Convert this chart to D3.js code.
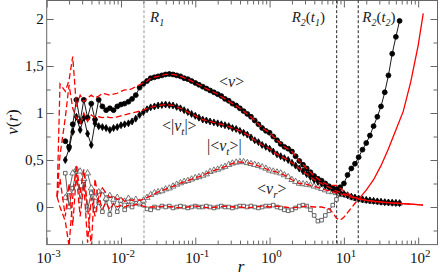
<!DOCTYPE html>
<html>
<head>
<meta charset="utf-8">
<script src="https://cdn.jsdelivr.net/npm/d3@7"></script>
<style>
body { margin: 0; background: #fff; }
svg { display: block; font-family: "Liberation Serif", "Times New Roman", serif; }
</style>
</head>
<body>
<div id="chart"></div>
<script>
var w = 443;
var h = 277;
var serif = "Liberation Serif, Times New Roman, serif";

// radius grid of the black (t1) curves
var rT1 = [0.00178, 0.00200, 0.00224, 0.00251, 0.00282, 0.00316, 0.00355, 0.00398, 0.00447, 0.00501,
    0.00562, 0.00631, 0.00708, 0.00794, 0.00891, 0.0100, 0.0112, 0.0126, 0.0141, 0.0158,
    0.0178, 0.0200, 0.0224, 0.0251, 0.0282, 0.0316, 0.0355, 0.0398, 0.0447, 0.0501,
    0.0562, 0.0631, 0.0708, 0.0794, 0.0891, 0.100, 0.112, 0.126, 0.141, 0.158,
    0.178, 0.200, 0.224, 0.251, 0.282, 0.316, 0.355, 0.398, 0.447, 0.501,
    0.562, 0.631, 0.708, 0.794, 0.891, 1.00, 1.12, 1.26, 1.41, 1.58,
    1.78, 2.00, 2.24, 2.51, 2.82, 3.16, 3.55, 3.98, 4.47, 5.01,
    5.62, 6.31, 7.08, 7.94, 8.91, 10.0, 11.2, 12.6, 14.1, 15.8,
    17.8, 20.0, 22.4, 25.1, 28.2, 31.6, 35.5, 39.8, 44.7, 50.1,
    56.2];

// <v>  (filled circles)
var vMean = [0.70, 0.64, 0.88, 1.14, 0.91, 1.14, 0.95, 1.10, 0.93, 1.14,
    1.07, 1.03, 1.05, 1.03, 1.07, 1.09, 1.10, 1.12, 1.15, 1.19,
    1.27, 1.31, 1.34, 1.37, 1.38, 1.39, 1.40, 1.41, 1.415, 1.41,
    1.40, 1.39, 1.37, 1.36, 1.34, 1.32, 1.30, 1.28, 1.26, 1.24,
    1.22, 1.20, 1.18, 1.15, 1.13, 1.10, 1.08, 1.05, 1.02, 0.99,
    0.96, 0.92, 0.88, 0.84, 0.81, 0.79, 0.75, 0.71, 0.67, 0.64,
    0.62, 0.59, 0.54, 0.49, 0.45, 0.41, 0.37, 0.33, 0.30, 0.28,
    0.25, 0.22, 0.20, 0.19, 0.21, 0.25, 0.34, 0.41, 0.46, 0.53,
    0.61, 0.68, 0.76, 0.86, 0.96, 1.07, 1.22, 1.40, 1.63, 1.81,
    1.98];

// <|v_t|>  (small diamonds)
var vtAbs = [0.50, 0.62, 0.80, 0.96, 0.82, 0.95, 0.78, 0.66, 0.89, 0.86,
    0.85, 0.84, 0.82, 0.84, 0.85, 0.87, 0.88, 0.89, 0.91, 0.94,
    0.98, 1.01, 1.04, 1.06, 1.07, 1.08, 1.085, 1.09, 1.085, 1.08,
    1.065, 1.05, 1.03, 1.01, 0.99, 0.97, 0.95, 0.93, 0.92, 0.91,
    0.90, 0.89, 0.88, 0.87, 0.86, 0.84, 0.83, 0.81, 0.79, 0.77,
    0.74, 0.71, 0.69, 0.66, 0.64, 0.62, 0.59, 0.56, 0.54, 0.52,
    0.50, 0.47, 0.44, 0.41, 0.38, 0.35, 0.32, 0.29, 0.27, 0.25,
    0.23, 0.21, 0.19, 0.17, 0.155, 0.14, 0.125, 0.11, 0.10, 0.09,
    0.08, 0.075, 0.07, 0.065, 0.06, 0.055, 0.05, 0.048, 0.045, 0.043,
    0.04];

// |<v_t>|  (open triangles)
var vtMean = [0.10, 0.16, 0.36, 0.40, 0.38, 0.30, 0.36, 0.20, 0.10, 0.16,
    0.17, 0.09, 0.12, 0.08, 0.10, 0.07, 0.06, 0.09, 0.06, 0.08,
    0.05, 0.07, 0.10, 0.13, 0.15, 0.16, 0.17, 0.19, 0.20, 0.22,
    0.24, 0.255, 0.27, 0.28, 0.295, 0.31, 0.32, 0.335, 0.35, 0.375,
    0.39, 0.40, 0.415, 0.43, 0.45, 0.465, 0.475, 0.48, 0.48, 0.47,
    0.46, 0.45, 0.44, 0.425, 0.41, 0.39, 0.38, 0.37, 0.36, 0.34,
    0.32, 0.29, 0.27, 0.25, 0.245, 0.24, 0.234, 0.22, 0.21, 0.195,
    0.18, 0.165, 0.16, 0.15, 0.14, 0.13, 0.12, 0.105, 0.095, 0.085,
    0.08, 0.072, 0.068, 0.062, 0.058, 0.054, 0.05, 0.047, 0.044, 0.042,
    0.04];

// <v_r>  (open squares)
var vr = [0.36, 0.00, 0.20, 0.38, 0.07, 0.28, -0.03, 0.15, -0.03, 0.05,
    -0.05, 0.08, -0.08, 0.05, -0.05, 0.03, -0.03, 0.02, 0.00, 0.04,
    0.03, 0.02, -0.02, -0.03, 0.00, -0.01, 0.01, 0.00, 0.01, -0.01,
    0.00, 0.01, 0.00, -0.01, 0.00, 0.01, 0.00, 0.00, 0.01, 0.00,
    -0.01, 0.00, 0.01, 0.00, 0.00, -0.01, 0.00, 0.01, 0.01, 0.00,
    0.01, 0.00, -0.01, 0.00, 0.01, 0.01, 0.02, 0.00, -0.01, -0.03,
    -0.04, -0.03, -0.01, 0.01, 0.02, 0.01, -0.03, -0.09, -0.15, -0.14,
    -0.09, -0.04, 0.02, 0.08, 0.13, 0.14, 0.12, 0.105, 0.09, 0.08,
    0.072, 0.066, 0.061, 0.057, 0.053, 0.049, 0.046, 0.043, 0.041, 0.039,
    0.037];

// radius grid of the red (t2) curves
var rT2 = [0.00138, 0.00151, 0.00178, 0.00200, 0.00224, 0.00251, 0.00282, 0.00316, 0.00355, 0.00398,
    0.00447, 0.00501, 0.00562, 0.00631, 0.00708, 0.00794, 0.00891, 0.0100, 0.0112, 0.0126,
    0.0141, 0.0158, 0.0178, 0.0200, 0.0224, 0.0251,
    0.0316, 0.0398, 0.0501, 0.0631, 0.0794, 0.100, 0.126, 0.158, 0.200, 0.251,
    0.316, 0.398, 0.501, 0.631, 0.794, 1.00, 1.26, 1.58, 2.00, 2.51,
    3.16, 3.98, 5.01, 6.31, 7.94, 10.0, 12.6, 15.8, 20.0, 25.1,
    31.6, 39.8, 50.1, 63.1, 79.4, 100, 116];

var vMeanT2 = [0.11, 1.31, 1.23, 1.35, 1.60, 1.07, 1.19, 1.12, 1.16, 1.19,
    1.16, 1.18, 1.21, 1.20, 1.19, 1.20, 1.21, 1.23, 1.245, 1.245,
    1.26, 1.28, 1.30, 1.32, 1.34, 1.37,
    1.39, 1.41, 1.41, 1.39, 1.36, 1.32, 1.28, 1.24, 1.20, 1.15,
    1.10, 1.05, 0.99, 0.92, 0.84, 0.79, 0.71, 0.64, 0.59, 0.49,
    0.41, 0.33, 0.27, 0.23, 0.23, 0.17, 0.12, 0.09, 0.07, 0.06,
    0.05, 0.045, 0.04, 0.035, 0.03, 0.025, 0.02];

var vtAbsT2 = [0.11, 0.55, 0.95, 1.30, 1.05, 0.95, 0.89, 1.00, 0.91, 0.98,
    0.95, 0.96, 0.95, 0.96, 0.95, 0.95, 0.96, 0.97, 0.98, 0.99,
    1.00, 1.01, 1.02, 1.03, 1.05, 1.06,
    1.08, 1.09, 1.08, 1.05, 1.01, 0.97, 0.93, 0.91, 0.89, 0.87,
    0.84, 0.81, 0.77, 0.71, 0.66, 0.62, 0.56, 0.52, 0.47, 0.41,
    0.35, 0.29, 0.25, 0.21, 0.17, 0.14, 0.11, 0.09, 0.075, 0.062,
    0.054, 0.047, 0.042, 0.036, 0.03, 0.025, 0.02];

var vtMeanT2 = [0.11, 0.00, -0.15, -0.42, 0.10, 0.45, 0.15, 0.40, 0.00, -0.42,
    0.30, 0.05, 0.20, 0.15, 0.10, 0.12, 0.08, 0.10, 0.06, 0.08,
    0.07, 0.08, 0.07, 0.08, 0.10, 0.12,
    0.16, 0.19, 0.22, 0.255, 0.28, 0.31, 0.335, 0.375, 0.40, 0.43,
    0.465, 0.48, 0.47, 0.45, 0.425, 0.39, 0.37, 0.34, 0.29, 0.25,
    0.24, 0.22, 0.195, 0.17, 0.15, 0.13, 0.105, 0.085, 0.072, 0.062,
    0.054, 0.047, 0.042, 0.036, 0.03, 0.025, 0.02];

var rVrT2 = [0.00138, 0.00151, 0.00178, 0.00200, 0.00224, 0.00251, 0.00282, 0.00316, 0.00355, 0.00398,
    0.00447, 0.00501, 0.00562, 0.00631, 0.00708, 0.00794, 0.00891, 0.0100, 0.0112, 0.0126,
    0.0141, 0.0158, 0.0178, 0.0200, 0.0224, 0.0251,
    0.0316, 0.0398, 0.0501, 0.0631, 0.0794, 0.100, 0.126, 0.158, 0.200, 0.251,
    0.316, 0.398, 0.501, 0.631, 0.794, 1.00, 1.26, 1.58, 2.00, 2.51,
    3.16, 3.98, 5.01, 6.31, 7.08, 7.94, 8.91, 10.0, 11.2, 12.6,
    14.1, 15.5];
var vrT2 = [0.11, 0.30, -0.10, 0.25, -0.20, 0.35, -0.10, 0.25, -0.38, 0.10,
    -0.10, 0.10, -0.02, 0.05, -0.03, 0.04, 0.00, 0.02, 0.00, 0.02,
    0.01, 0.03, 0.02, 0.01, 0.00, 0.00,
    0.00, 0.01, 0.00, -0.01, 0.00, 0.01, 0.00, -0.01, 0.00, 0.01,
    0.00, 0.00, -0.01, 0.00, 0.01, 0.00, 0.01, 0.00, -0.01, 0.00,
    0.01, 0.00, 0.00, -0.02, -0.06, -0.12, -0.14, -0.11, -0.06, -0.01,
    0.04, 0.075];

// solid red branch beyond R2(t2)
var rRise = [15.5, 20.0, 25.1, 31.6, 39.8, 50.1, 63.1, 79.4, 100, 117];
var vRise = [0.075, 0.18, 0.29, 0.44, 0.62, 0.82, 1.02, 1.33, 1.72, 2.06];

// vertical reference radii
var refR = [0.0204, 8.0, 15.6];

// ticks
var xMajor = [1e-3, 1e-2, 1e-1, 1, 10, 100];
var xExp = ["-3", "-2", "-1", "0", "1", "2"];
var yMajor = [0, 0.5, 1, 1.5, 2];
var yLabels = ["0", "0,5", "1", "1,5", "2"];
var yMinor = [-0.25, 0.25, 0.75, 1.25, 1.75];

var x = d3.scaleLog().domain([0.001, 182]).range([46.7, 437.5]);
var y = d3.scaleLinear().domain([-0.4, 2.2]).range([244.6, 0.2]);

var xMinor = [];
xMajor.forEach(function (m) {
    for (var k = 2; k < 10; k++) {
        if (m * k < 182) xMinor.push(m * k);
    }
});

var svg = d3.select("#chart")
    .append("svg")
    .attr("width", w)
    .attr("height", h);

svg.append("clipPath")
    .attr("id", "plotclip")
    .append("rect")
    .attr("x", 46.7)
    .attr("y", 0.2)
    .attr("width", 390.8)
    .attr("height", 244.4);

var tickColor = "#666";
function styleAxis(g) {
    g.select(".domain").remove();
    g.selectAll("line").attr("stroke", tickColor);
}

// ticks pointing inward on all four sides
svg.append("g").attr("transform", "translate(0,244.6)")
    .call(d3.axisBottom(x).tickValues(xMajor).tickSize(-7).tickFormat("")).call(styleAxis);
svg.append("g").attr("transform", "translate(0,244.6)")
    .call(d3.axisBottom(x).tickValues(xMinor).tickSize(-4).tickFormat("")).call(styleAxis);
svg.append("g").attr("transform", "translate(0,0.5)")
    .call(d3.axisTop(x).tickValues(xMajor).tickSize(-7).tickFormat("")).call(styleAxis);
svg.append("g").attr("transform", "translate(0,0.5)")
    .call(d3.axisTop(x).tickValues(xMinor).tickSize(-4).tickFormat("")).call(styleAxis);

var yAxis = svg.append("g").attr("transform", "translate(46.7,0)")
    .call(d3.axisLeft(y).tickValues(yMajor).tickSize(-7).tickPadding(3)
        .tickFormat(function (d, i) { return yLabels[i]; }))
    .call(styleAxis);
yAxis.attr("font-family", serif);
yAxis.selectAll("text")
    .attr("font-family", serif)
    .attr("font-size", "15px")
    .attr("fill", "#111");
svg.append("g").attr("transform", "translate(46.7,0)")
    .call(d3.axisLeft(y).tickValues(yMinor).tickSize(-4).tickFormat("")).call(styleAxis);
svg.append("g").attr("transform", "translate(437.5,0)")
    .call(d3.axisRight(y).tickValues(yMajor).tickSize(-7).tickFormat("")).call(styleAxis);
svg.append("g").attr("transform", "translate(437.5,0)")
    .call(d3.axisRight(y).tickValues(yMinor).tickSize(-4).tickFormat("")).call(styleAxis);

// x tick labels with superscript exponents
svg.append("g")
    .selectAll("text")
    .data(xMajor)
    .enter()
    .append("text")
    .attr("x", function (d) { return x(d) + 2; })
    .attr("y", 263)
    .attr("text-anchor", "middle")
    .attr("font-family", serif)
    .attr("font-size", "15px")
    .attr("fill", "#111")
    .each(function (d, i) {
        var t = d3.select(this);
        t.append("tspan").text("10");
        t.append("tspan").attr("dy", -6).attr("font-size", "11px").text(xExp[i]);
    });

// frame
svg.append("rect")
    .attr("x", 46.7)
    .attr("y", 0.5)
    .attr("width", 390.8)
    .attr("height", 244.1)
    .attr("fill", "none")
    .attr("stroke", tickColor)
    .attr("stroke-width", 1);

var plot = svg.append("g").attr("clip-path", "url(#plotclip)");

// reference radii
plot.selectAll("line.ref")
    .data(refR)
    .enter()
    .append("line")
    .attr("class", "ref")
    .attr("x1", function (d) { return x(d); })
    .attr("x2", function (d) { return x(d); })
    .attr("y1", y(2.2))
    .attr("y2", y(-0.4))
    .attr("stroke", function (d, i) { return i == 0 ? "#999" : "#222"; })
    .attr("stroke-width", 1)
    .attr("stroke-dasharray", "3,2");

var line = d3.line()
    .x(function (d) { return x(d[0]); })
    .y(function (d) { return y(d[1]); });

function drawSeries(rs, vs, stroke, symbolType, size, fill) {
    var pts = d3.zip(rs, vs);
    plot.append("path")
        .datum(pts)
        .attr("d", line)
        .attr("fill", "none")
        .attr("stroke", stroke)
        .attr("stroke-width", 0.9);
    plot.append("g")
        .selectAll("path")
        .data(pts)
        .enter()
        .append("path")
        .attr("transform", function (d) { return "translate(" + x(d[0]) + "," + y(d[1]) + ")"; })
        .attr("d", d3.symbol().type(symbolType).size(size))
        .attr("fill", fill)
        .attr("stroke", stroke)
        .attr("stroke-width", 0.8);
}

drawSeries(rT1, vr, "#444", d3.symbolSquare, 13, "#fff");
drawSeries(rT1, vtMean, "#555", d3.symbolTriangle, 16, "#fff");
drawSeries(rT1, vtAbs, "#000", d3.symbolDiamond, 14, "#000");
drawSeries(rT1, vMean, "#000", d3.symbolCircle, 19, "#000");

// red t2 curves
var redSeries = [vrT2, vtMeanT2, vtAbsT2, vMeanT2];
var redR = [rVrT2, rT2, rT2, rT2];
redSeries.forEach(function (vs, i) {
    plot.append("path")
        .datum(d3.zip(redR[i], vs))
        .attr("d", line)
        .attr("fill", "none")
        .attr("stroke", "#f00")
        .attr("stroke-width", 1.3)
        .attr("stroke-dasharray", "6,3");
});
plot.append("path")
    .datum(d3.zip(rRise, vRise))
    .attr("d", line)
    .attr("fill", "none")
    .attr("stroke", "#f00")
    .attr("stroke-width", 1.3);

// annotations
function label(xp, yp, size, parts) {
    var t = svg.append("text")
        .attr("x", xp)
        .attr("y", yp)
        .attr("font-family", serif)
        .attr("font-size", size + "px")
        .attr("fill", "#222");
    parts.forEach(function (p) {
        var s = t.append("tspan").text(p.t);
        if (p.i) s.attr("font-style", "italic");
        if (p.dy) s.attr("dy", p.dy);
        if (p.s) s.attr("font-size", p.s + "px");
    });
}

label(x(refR[0]) + 6, 22, 15, [{t: "R", i: 1}, {t: "1", i: 1, dy: 4, s: 10}]);
label(x(refR[1]) - 45, 22, 15, [{t: "R", i: 1}, {t: "2", i: 1, dy: 4, s: 10}, {t: "(", dy: -4},
    {t: "t", i: 1}, {t: "1", i: 1, dy: 4, s: 10}, {t: ")", dy: -4}]);
label(x(refR[2]) + 4, 22, 15, [{t: "R", i: 1}, {t: "2", i: 1, dy: 4, s: 10}, {t: "(", dy: -4},
    {t: "t", i: 1}, {t: "2", i: 1, dy: 4, s: 10}, {t: ")", dy: -4}]);

label(219, 87, 16, [{t: "<"}, {t: "v", i: 1}, {t: ">"}]);
label(162, 131, 16, [{t: "<|"}, {t: "v", i: 1}, {t: "t", i: 1, dy: 4, s: 11}, {t: "|>", dy: -4}]);
label(207, 151, 16, [{t: "|<"}, {t: "v", i: 1}, {t: "t", i: 1, dy: 4, s: 11}, {t: ">|", dy: -4}]);
label(257, 194, 16, [{t: "<"}, {t: "v", i: 1}, {t: "r", i: 1, dy: 4, s: 11}, {t: ">", dy: -4}]);

// axis titles
svg.append("text")
    .attr("x", 241)
    .attr("y", 272)
    .attr("text-anchor", "middle")
    .attr("font-family", serif)
    .attr("font-size", "17px")
    .attr("font-style", "italic")
    .attr("fill", "#111")
    .text("r");

var yt = svg.append("text")
    .attr("transform", "translate(18,122) rotate(-90)")
    .attr("text-anchor", "middle")
    .attr("font-family", serif)
    .attr("font-size", "17px")
    .attr("fill", "#111");
yt.append("tspan").attr("font-style", "italic").text("v");
yt.append("tspan").text("(");
yt.append("tspan").attr("font-style", "italic").text("r");
yt.append("tspan").text(")");
</script>
</body>
</html>
